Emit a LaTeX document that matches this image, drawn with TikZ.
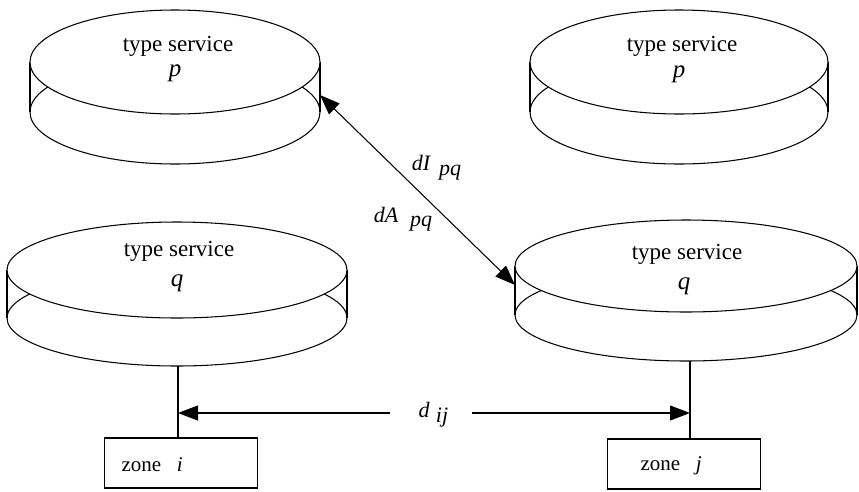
\documentclass[tikz,border=0pt]{standalone}
\usepackage{fontspec}
\setmainfont{Liberation Serif}
\usetikzlibrary{arrows.meta}
\newcommand\mydisc[6]{%
  % #1 name, #2 cx, #3 cy (top ellipse centre), #4 rx, #5 ry, #6 height
  \draw ({#2},{#3+#6}) ellipse [x radius=#4, y radius=#5];
  \draw ({#2-#4},{#3}) -- ({#2-#4},{#3+#6});
  \draw ({#2+#4},{#3}) -- ({#2+#4},{#3+#6});
  \draw[fill=white] ({#2},{#3}) ellipse [x radius=#4, y radius=#5];
  \coordinate (#1-c) at ({#2},{#3});
  \coordinate (#1-bot) at ({#2},{#3+#6+#5});
}
\begin{document}
\begin{tikzpicture}[x=1pt,y=-1pt, line width=1.05pt,
  big/.style={inner sep=0pt, font=\fontsize{23}{27}\selectfont},
  ital/.style={inner sep=0pt, font=\fontsize{25}{29}\selectfont\itshape},
  lbl/.style={inner sep=0pt, font=\fontsize{22}{26}\selectfont\itshape},
  zonebox/.style={draw, minimum width=153pt, minimum height=50pt, inner sep=0pt},
  zonetext/.style={inner sep=0pt, anchor=west, font=\fontsize{21}{25}\selectfont},
  arr/.style={-{Triangle[length=20pt,width=15pt]}},
  ]
\useasboundingbox (0,0) rectangle (859,491);

\mydisc{tl}{175}{62}{145}{52}{50}
\mydisc{tr}{679}{62}{149}{52}{50}
\mydisc{bl}{177}{270}{170}{48}{48}
\mydisc{br}{686}{266}{171}{46}{49}

\node[big] (tlt) at (178,46) {type service};
\node[ital] (tlp) at (175,73) {p};
\node[big] (trt) at (682,46) {type service};
\node[ital] (trp) at (679,74) {p};
\node[big] (blt) at (179,251) {type service};
\node[ital] (blq) at (177,283) {q};
\node[big] (brt) at (687,254) {type service};
\node[ital] (brq) at (684,286) {q};

% diagonal double arrow
\coordinate (pr) at (320,95);
\coordinate (ql) at (515,285);
\draw[{Triangle[length=20pt,width=15pt]}-{Triangle[length=20pt,width=15pt]}] (pr) -- (ql);
\node[lbl] (dI) at (421,163) {dI};
\node[lbl] (dIpq) at (450,173) {pq};
\node[lbl] (dA) at (386,215) {dA};
\node[lbl] (dApq) at (421,224) {pq};

% zones
\node[zonebox] (zi) at (181,463) {};
\node[zonebox] (zj) at (684,464) {};
\node[zonetext] (zit) at (121,465) {zone\hspace{0.75em}\textit{i}};
\node[zonetext] (zjt) at (640,466) {zone\hspace{0.75em}\textit{j}};
\draw (zi.north -| 178,0) -- (bl-bot -| 178,0);
\draw (zj.north -| 690,0) -- (br-bot -| 690,0);
\coordinate (ai) at (178,413);
\coordinate (aj) at (690,413);
\node[lbl] (d) at (424,410) {d};
\node[lbl] (ij) at (442,418) {ij};
\draw[arr] (390,413) -- (ai);
\draw[arr] (472,413) -- (aj);
\end{tikzpicture}
\end{document}
